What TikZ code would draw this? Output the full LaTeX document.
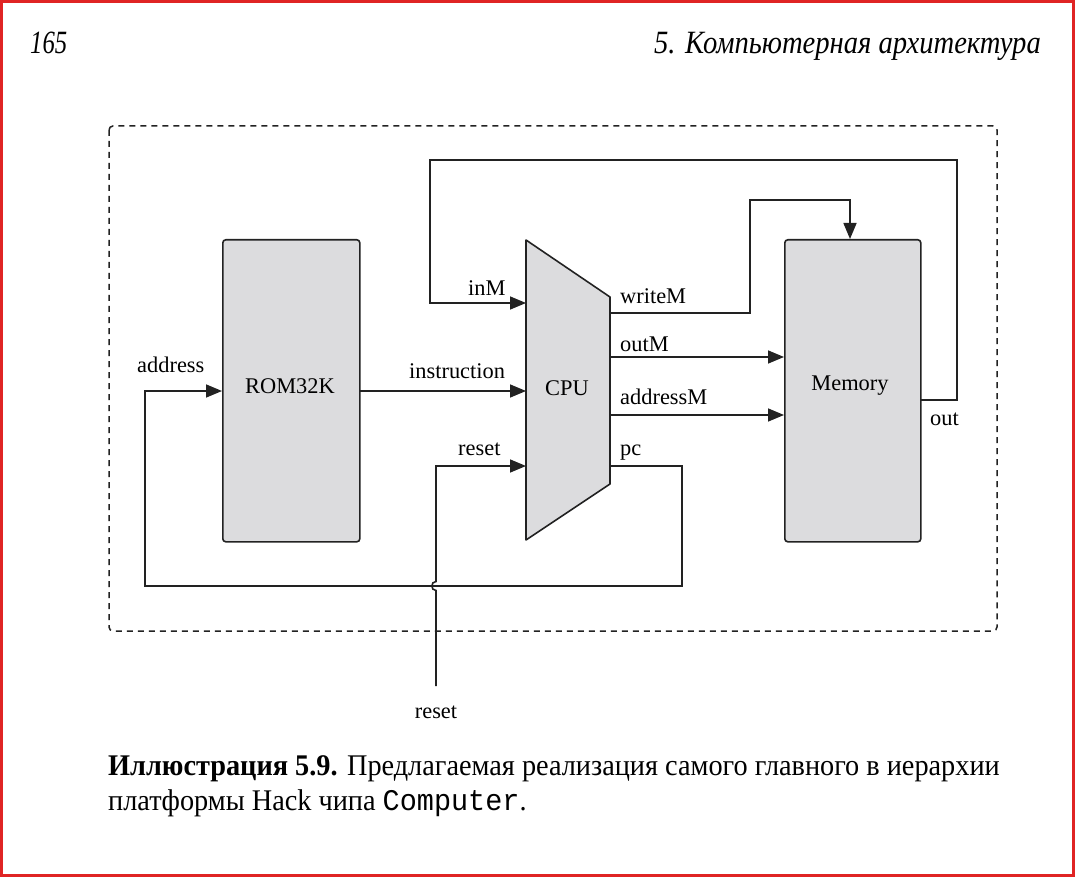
\documentclass[tikz,border=0pt]{standalone}
\usepackage{fontspec}
\setmainfont{Liberation Serif}
\newfontfamily\capfont[FakeStretch=0.943]{Liberation Serif}
\newfontfamily\hdfont[FakeStretch=0.76]{Liberation Serif}
\newfontfamily\hdwfont[FakeStretch=0.88]{Liberation Serif}
\newfontfamily\monofont[FakeStretch=0.95]{Liberation Mono}
\usetikzlibrary{arrows.meta}
\definecolor{boxgray}{HTML}{DCDCDE}
\definecolor{linegray}{HTML}{222222}
\definecolor{framered}{HTML}{E02424}
\tikzset{
  wire/.style={draw=linegray, line width=1.6pt},
  arr/.style={wire, -{Triangle[length=16pt,width=13pt]}},
  block/.style={draw=linegray, line width=1.6pt, fill=boxgray, rounded corners=3pt},
  lbl/.style={font=\fontsize{22.4}{24}\selectfont, text=black, inner sep=0pt},
}
\begin{document}
\begin{tikzpicture}[x=1pt,y=-1pt]
\useasboundingbox (0,0) rectangle (1076,877);
\fill[white] (0,0) rectangle (1076,877);
\draw[framered, line width=2.5pt] (1.5,1.5) rectangle (1073.5,875.5);

% header
\node[anchor=base west, inner sep=0pt, font=\hdfont\itshape\fontsize{32.5}{33}\selectfont] (pg) at (30,54) {165};
\node[anchor=base east, inner sep=0pt, font=\hdwfont\itshape\fontsize{32.5}{33}\selectfont] (ch) at (1041,54) {5. Компьютерная архитектура};

% dashed frame
\draw[linegray, line width=1.5pt, dash pattern=on 6pt off 5pt, rounded corners=4pt] (109,126) rectangle (997,631);

% blocks
\node[block, minimum width=137pt, minimum height=302pt, anchor=north west] (rom) at (222,239) {};
\node[block, minimum width=136pt, minimum height=302pt, anchor=north west] (mem) at (784,239) {};
\node[lbl] (romt) at (290,386) {ROM32K};
\node[lbl] (memt) at (850,386) {Memory};

% CPU trapezoid
\coordinate (cpuTL) at (526,240);
\coordinate (cpuTR) at (610,297);
\coordinate (cpuBR) at (610,484);
\coordinate (cpuBL) at (526,540);
\draw[draw=linegray, line width=1.6pt, fill=boxgray, line join=round] (cpuTL) -- (cpuTR) -- (cpuBR) -- (cpuBL) -- cycle;
\node[lbl] (cput) at (567,388) {CPU};

% port coordinates
\coordinate (cinM) at (526,303);
\coordinate (cins) at (526,391);
\coordinate (crst) at (526,466);
\coordinate (owr) at (610,313);
\coordinate (oout) at (610,357);
\coordinate (oadr) at (610,415);
\coordinate (opc) at (610,466);
\coordinate (radr) at (222,391);
\coordinate (rout) at (359,391);
\coordinate (mwr) at (850,239);
\coordinate (mout) at (784,357);
\coordinate (madr) at (784,415);
\coordinate (mo) at (920,400);
\coordinate (rstin) at (436,686);

% connectors
\draw[arr] (rout) -- (cins);
\draw[arr] (oout) -- (mout);
\draw[arr] (oadr) -- (madr);
\draw[arr] (owr) -- (750,313) -- (750,200) -- (850,200) -- (mwr);
\draw[arr] (mo) -- (957,400) -- (957,160) -- (430,160) -- (430,303) -- (cinM);
\draw[arr] (opc) -- (682,466) -- (682,586) -- (145,586) -- (145,391) -- (radr);
\draw[arr] (rstin) -- (436,590.5) .. controls (430.5,590.5) and (430.5,581.5) .. (436,581.5) -- (436,466) -- (crst);

% labels
\node[lbl, anchor=base west] (l1) at (137,372) {address};
\node[lbl, anchor=base west] (l2) at (409,378) {instruction};
\node[lbl, anchor=base west] (l3) at (468,296) {inM};
\node[lbl, anchor=base west] (l4) at (458,455) {reset};
\node[lbl, anchor=base west] (l5) at (620,303) {writeM};
\node[lbl, anchor=base west] (l6) at (620,351) {outM};
\node[lbl, anchor=base west] (l7) at (620,404) {addressM};
\node[lbl, anchor=base west] (l8) at (620,455) {pc};
\node[lbl, anchor=base west] (l9) at (930,425) {out};
\node[lbl, anchor=base] (l10) at (436,718) {reset};

% caption
\node[anchor=base west, inner sep=0pt, font=\capfont\fontsize{30}{31}\selectfont] (cap1) at (108,775) {\textbf{Иллюстрация 5.9.} Предлагаемая реализация самого главного в иерархии};
\node[anchor=base west, inner sep=0pt, font=\capfont\fontsize{30}{31}\selectfont] (cap2) at (108,810) {платформы Hack чипа {\monofont\fontsize{30}{30}\selectfont Computer}.};
\end{tikzpicture}
\end{document}
